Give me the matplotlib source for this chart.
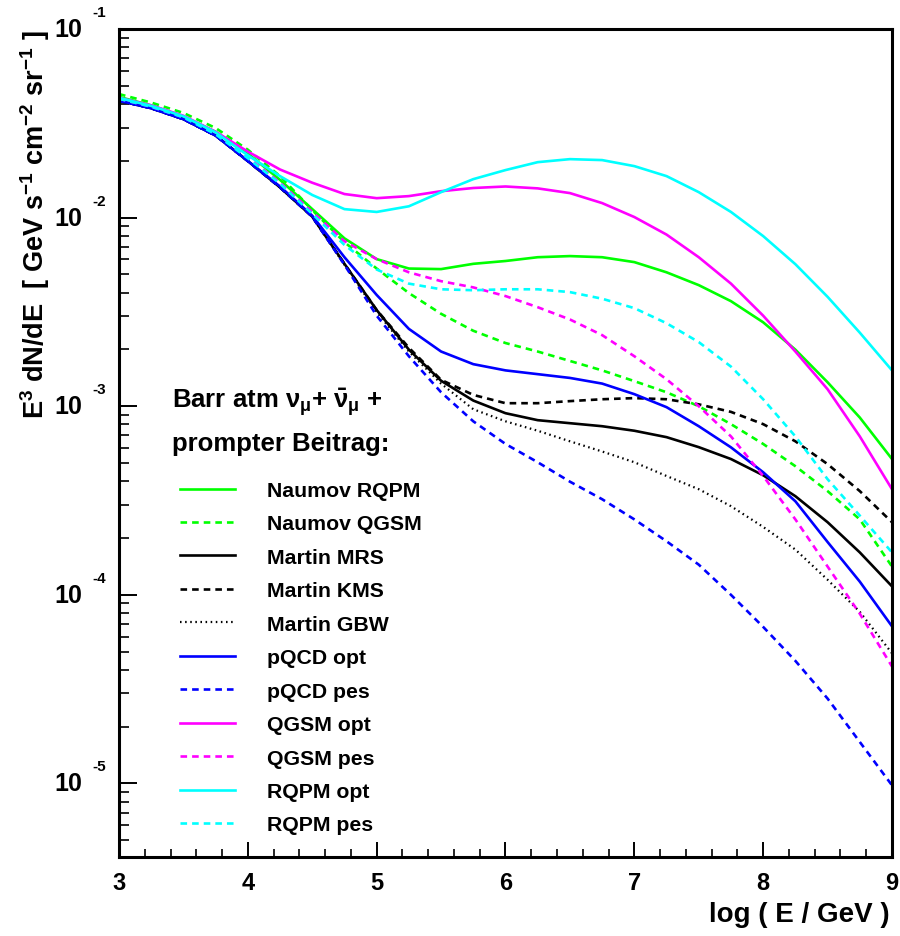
import numpy as np
import matplotlib.pyplot as plt
from matplotlib.ticker import MultipleLocator, LogLocator, NullFormatter, FixedLocator

plt.rcParams['font.family'] = ['Liberation Sans', 'DejaVu Sans']
plt.rcParams['font.weight'] = 'bold'
plt.rcParams['mathtext.fontset'] = 'custom'
plt.rcParams['mathtext.rm'] = 'Liberation Sans:bold'
plt.rcParams['mathtext.it'] = 'Liberation Sans:bold'
plt.rcParams['mathtext.bf'] = 'Liberation Sans:bold'

# log10(E/GeV) grid
logE = [3.0, 3.25, 3.5, 3.75, 4.0, 4.25, 4.5, 4.75, 5.0, 5.25, 5.5, 5.75,
        6.0, 6.25, 6.5, 6.75, 7.0, 7.25, 7.5, 7.75, 8.0, 8.25, 8.5, 8.75, 9.0]

# log10 of E^3 dN/dE
naumov_rqpm = [-1.36, -1.405, -1.465, -1.545, -1.66, -1.80, -1.955, -2.11, -2.22, -2.27, -2.273, -2.245,
               -2.23, -2.21, -2.204, -2.21, -2.236, -2.29, -2.358, -2.443, -2.555, -2.70, -2.873, -3.06, -3.28]
naumov_qgsm = [-1.345, -1.39, -1.445, -1.525, -1.64, -1.78, -1.96, -2.13, -2.27, -2.40, -2.51, -2.60,
               -2.665, -2.71, -2.76, -2.81, -2.867, -2.926, -3.0, -3.095, -3.20, -3.318, -3.45, -3.60, -3.85]
martin_mrs = [-1.38, -1.42, -1.478, -1.565, -1.70, -1.84, -1.995, -2.245, -2.49, -2.70, -2.865, -2.97,
              -3.037, -3.074, -3.09, -3.106, -3.13, -3.164, -3.217, -3.28, -3.366, -3.477, -3.615, -3.775, -3.955]
martin_kms = [-1.38, -1.42, -1.478, -1.565, -1.70, -1.84, -1.995, -2.245, -2.49, -2.69, -2.86, -2.94,
              -2.984, -2.984, -2.973, -2.963, -2.957, -2.963, -2.99, -3.03, -3.095, -3.186, -3.307, -3.45, -3.615]
martin_gbw = [-1.38, -1.42, -1.478, -1.565, -1.70, -1.84, -1.995, -2.25, -2.50, -2.71, -2.88, -3.016,
              -3.08, -3.13, -3.186, -3.24, -3.297, -3.37, -3.44, -3.53, -3.64, -3.76, -3.92, -4.09, -4.31]
pqcd_opt = [-1.38, -1.42, -1.478, -1.565, -1.70, -1.835, -1.99, -2.21, -2.41, -2.59, -2.71, -2.777,
            -2.81, -2.83, -2.85, -2.88, -2.936, -3.005, -3.106, -3.218, -3.35, -3.504, -3.72, -3.93, -4.167]
pqcd_pes = [-1.38, -1.42, -1.478, -1.565, -1.70, -1.84, -1.995, -2.25, -2.52, -2.735, -2.926, -3.08,
            -3.20, -3.297, -3.40, -3.493, -3.60, -3.716, -3.84, -4.0, -4.17, -4.35, -4.55, -4.78, -5.01]
qgsm_opt = [-1.365, -1.405, -1.46, -1.545, -1.65, -1.745, -1.815, -1.875, -1.897, -1.886, -1.86, -1.843,
            -1.835, -1.845, -1.87, -1.923, -1.997, -2.09, -2.21, -2.35, -2.52, -2.71, -2.91, -3.16, -3.44]
qgsm_pes = [-1.37, -1.412, -1.468, -1.555, -1.68, -1.815, -1.97, -2.125, -2.22, -2.29, -2.337, -2.37,
            -2.416, -2.475, -2.54, -2.623, -2.735, -2.857, -3.0, -3.16, -3.37, -3.60, -3.85, -4.10, -4.38]
rqpm_opt = [-1.365, -1.408, -1.463, -1.548, -1.67, -1.78, -1.88, -1.955, -1.97, -1.94, -1.865, -1.796,
            -1.748, -1.706, -1.69, -1.695, -1.727, -1.78, -1.865, -1.97, -2.098, -2.247, -2.42, -2.61, -2.81]
rqpm_pes = [-1.37, -1.412, -1.468, -1.558, -1.685, -1.82, -1.98, -2.145, -2.275, -2.35, -2.38, -2.385,
            -2.38, -2.38, -2.395, -2.43, -2.48, -2.56, -2.66, -2.79, -2.963, -3.16, -3.387, -3.58, -3.775]

names = ['Naumov RQPM', 'Naumov QGSM', 'Martin MRS', 'Martin KMS', 'Martin GBW',
         'pQCD opt', 'pQCD pes', 'QGSM opt', 'QGSM pes', 'RQPM opt', 'RQPM pes']
series = [naumov_rqpm, naumov_qgsm, martin_mrs, martin_kms, martin_gbw,
          pqcd_opt, pqcd_pes, qgsm_opt, qgsm_pes, rqpm_opt, rqpm_pes]
colors = ['#00ff00', '#00ff00', 'black', 'black', 'black',
          '#0000ff', '#0000ff', '#ff00ff', '#ff00ff', '#00ffff', '#00ffff']
styles = ['solid', 'dash', 'solid', 'dash', 'dot',
          'solid', 'dash', 'solid', 'dash', 'solid', 'dash']

fig = plt.figure(figsize=(9, 9.37), dpi=100)
ax = fig.add_axes([119/900, 1-858/937, 773/900, 828/937])

handles = []
for name, vals, col, st in zip(names, series, colors, styles):
    y = 10**np.array(vals)
    if st == 'solid':
        h, = ax.plot(logE, y, color=col, lw=1.9, label=name)
    elif st == 'dash':
        h, = ax.plot(logE, y, color=col, lw=1.9, dashes=(2.5, 1.9), label=name)
    else:
        h, = ax.plot(logE, y, color=col, lw=1.6, dashes=(0.7, 1.6), label=name)
    handles.append(h)

ax.set_yscale('log')
ax.set_xlim(3, 9)
ax.set_ylim(10**-5.39, 0.1)

for sp in ax.spines.values():
    sp.set_linewidth(2.2)

ax.xaxis.set_major_locator(MultipleLocator(1))
ax.xaxis.set_minor_locator(MultipleLocator(0.2))
ax.yaxis.set_major_locator(FixedLocator([1e-5, 1e-4, 1e-3, 1e-2, 1e-1]))
ax.yaxis.set_minor_locator(LogLocator(base=10, subs=np.arange(2, 10)))
ax.yaxis.set_minor_formatter(NullFormatter())
ax.yaxis.set_major_formatter(NullFormatter())
ax.tick_params(axis='x', which='major', direction='in', length=11, width=1.4,
               labelsize=17, pad=10)
ax.tick_params(axis='x', which='minor', direction='in', length=6, width=1.2)
ax.tick_params(axis='y', which='major', direction='in', length=13, width=1.4)
ax.tick_params(axis='y', which='minor', direction='in', length=7, width=1.2)
for lab in ax.get_xticklabels():
    lab.set_fontweight('bold')

# ROOT-style y labels: "10" with exponent raised above
for e in [-1, -2, -3, -4, -5]:
    ax.annotate('10', xy=(0, 10.0**e), xycoords=('axes fraction', 'data'),
                xytext=(-37, 0), textcoords='offset pixels',
                ha='right', va='center', fontsize=18, fontweight='bold')
    ax.annotate(str(e), xy=(0, 10.0**e), xycoords=('axes fraction', 'data'),
                xytext=(-27, 17), textcoords='offset pixels',
                ha='left', va='center', fontsize=11, fontweight='bold')

fig.text(890/900, 1-915/937, 'log ( E / GeV )', ha='right', va='center',
         fontsize=20, fontweight='bold')
fig.text(35/900, 1-30/937,
         r'E$^{3}$ dN/dE  [ GeV s$^{-1}$ cm$^{-2}$ sr$^{-1}$ ]',
         rotation=90, ha='center', va='top', fontsize=19.5, fontweight='bold')

fig.text(172/900, 1-403/937, r'Barr atm $\nu_{\mu}$+ $\bar{\nu}_{\mu}$ +',
         ha='left', va='center', fontsize=18.5, fontweight='bold')
fig.text(172/900, 1-444/937, 'prompter Beitrag:',
         ha='left', va='center', fontsize=18.5, fontweight='bold')

leg = ax.legend(handles=handles, loc='upper left',
                bbox_to_anchor=(180/900, 1-482/937), bbox_transform=fig.transFigure,
                frameon=False, prop={'size': 15.3, 'weight': 'bold'},
                handlelength=2.6, handletextpad=1.5, labelspacing=0.68,
                borderpad=0, borderaxespad=0)

fig.savefig('out.png', dpi=100)
